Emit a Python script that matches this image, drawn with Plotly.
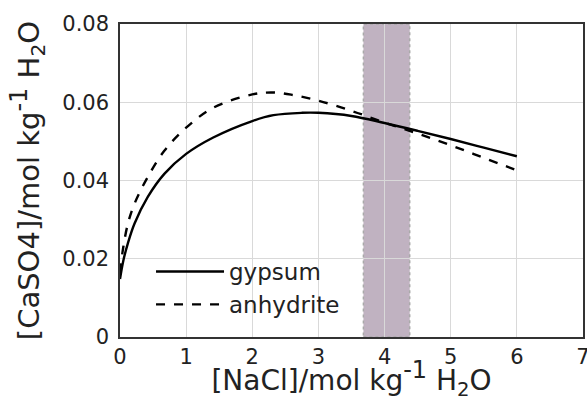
import plotly.graph_objects as go

nacl_gypsum = [0, 0.05, 0.12, 0.22, 0.42, 0.67, 1.0, 1.41, 2.0, 2.32, 2.75, 3.0, 3.5, 4.0, 4.5, 5.0, 5.5, 6.0]
caso4_gypsum = [0.0148, 0.0195, 0.024, 0.029, 0.0358, 0.0417, 0.0468, 0.051, 0.0552, 0.0567, 0.0573, 0.0573, 0.0565, 0.0547, 0.0527, 0.0506, 0.0484, 0.0462]

nacl_anhydrite = [0, 0.05, 0.12, 0.22, 0.42, 0.67, 1.0, 1.41, 2.0, 2.3, 2.6, 3.0, 3.5, 4.0, 4.5, 5.0, 5.5, 6.0]
caso4_anhydrite = [0.0165, 0.023, 0.029, 0.0341, 0.0409, 0.0476, 0.0535, 0.0586, 0.062, 0.0625, 0.0619, 0.0604, 0.0578, 0.0548, 0.052, 0.049, 0.0458, 0.0426]

band_range = [3.68, 4.38]
x_ticks = [0, 1, 2, 3, 4, 5, 6, 7]
y_ticks = [0, 0.02, 0.04, 0.06, 0.08]
y_ticktext = ["0", "0.02", "0.04", "0.06", "0.08"]

FONT = "DejaVu Sans"
TXT = "#222222"

fig = go.Figure()
fig.add_trace(go.Scatter(x=nacl_gypsum, y=caso4_gypsum, mode="lines", name="gypsum",
                         line=dict(color="black", width=2.4, shape="spline", smoothing=1.0)))
fig.add_trace(go.Scatter(x=nacl_anhydrite, y=caso4_anhydrite, mode="lines", name="anhydrite",
                         line=dict(color="black", width=2.4, dash="dash", shape="spline", smoothing=1.0)))

fig.add_shape(type="rect", xref="x", yref="y", x0=band_range[0], x1=band_range[1], y0=0, y1=0.08,
              fillcolor="#c0b2c1", line=dict(color="#a9a9a9", width=1.5, dash="dot"), layer="below")

title_x = "[NaCl]/mol kg<sup><span style='font-size:24px'>-1</span></sup> H<sub>2</sub>O"
title_y = "[CaSO4]/mol kg<sup><span style='font-size:24px'>-1</span></sup> H<sub>2</sub>O"

fig.update_layout(
    width=587, height=401,
    margin=dict(l=120, r=4, t=24, b=64),
    paper_bgcolor="white", plot_bgcolor="white",
    font=dict(family=FONT, color=TXT, size=21),
    showlegend=True,
    legend=dict(x=0.067, y=0.035, xanchor="left", yanchor="bottom", bgcolor="rgba(0,0,0,0)",
                font=dict(size=23, family=FONT, color=TXT), tracegroupgap=0, itemwidth=68),
)
fig.update_xaxes(range=[0, 7], tickvals=x_ticks, showgrid=True, gridcolor="#d9d9d9", gridwidth=1,
                 zeroline=False, showline=True, linecolor="#333333", linewidth=1.5, mirror=True,
                 ticks="", automargin=False, ticklabeloverflow="allow", tickfont=dict(size=21, family=FONT, color=TXT),
                 title=dict(text=title_x, font=dict(size=28, family=FONT, color=TXT), standoff=6))
fig.update_yaxes(range=[0, 0.08], tickvals=y_ticks, ticktext=y_ticktext, showgrid=True, gridcolor="#d9d9d9", gridwidth=1,
                 zeroline=False, showline=True, linecolor="#333333", linewidth=1.5, mirror=True,
                 ticks="", automargin=False, ticklabelstandoff=5, tickfont=dict(size=21, family=FONT, color=TXT),
                 title=dict(text=title_y, font=dict(size=29, family=FONT, color=TXT), standoff=14))

fig.write_html("out.html", config={"displayModeBar": False},
               post_script="document.body.style.margin='0';")
